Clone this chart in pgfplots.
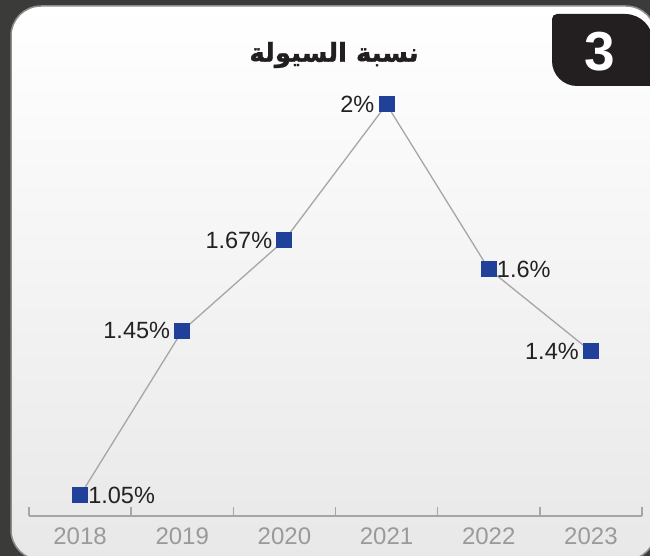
\documentclass[border=0pt]{standalone}
\usepackage{pgfplots}
\pgfplotsset{compat=1.18}
\usepackage{fontspec}
\setmainfont{Liberation Sans}
\newfontfamily\arabicfont[Script=Arabic, BoldFeatures={FakeBold=1.2}]{DejaVu Sans}
\TeXXeTstate=1
\definecolor{bgdark}{HTML}{3B3B3A}
\definecolor{tabdark}{HTML}{231F20}
\definecolor{markblue}{HTML}{21409A}
\definecolor{linegray}{HTML}{A6A6A6}
\definecolor{yeargray}{HTML}{9A9A9A}
\definecolor{labtext}{HTML}{222222}
\begin{document}
\begin{tikzpicture}
% page frame, 1pt = 1px of the reference
\useasboundingbox (0,0) rectangle (650pt,556pt);
\clip (0,0) rectangle (650pt,556pt);
\fill[bgdark] (0,0) rectangle (650pt,556pt);
% white panel
\shade[top color=white, bottom color=black!9, rounded corners=30pt]
  (11pt,-4pt) rectangle (656pt,550pt);
\draw[black!45, line width=1.5pt, rounded corners=30pt]
  (11pt,-4pt) rectangle (656pt,550pt);
% number tab
\fill[tabdark] (660pt,470pt) -- (577pt,470pt)
  arc[start angle=270, end angle=180, radius=25pt] -- (552pt,537pt)
  arc[start angle=180, end angle=90, radius=5pt] -- (625pt,542pt)
  arc[start angle=90, end angle=0, radius=28pt] -- (660pt,514pt) -- cycle;
\node[text=white, font=\fontsize{55}{60}\selectfont\bfseries] at (600pt,504pt) {3};
% title
\node[text=tabdark, font=\fontsize{26}{31}\selectfont\arabicfont\bfseries]
  at (334pt,501pt) {\beginR نسبة السيولة\endR};

\begin{axis}[
    at={(29pt,40pt)}, anchor=south west,
    scale only axis,
    width=613pt, height=514.5pt,
    xmin=-0.5, xmax=5.5,
    ymin=1, ymax=2.25,
    clip=false,
    axis x line*=bottom,
    axis y line=none,
    x axis line style={linegray, line width=1.4pt},
    xtick={0,...,5},
    xticklabels={2018,2019,2020,2021,2022,2023},
    major tick length=0pt,
    minor xtick={-0.5,0.5,...,5.5},
    minor tick length=9pt,
    tick align=inside,
    minor tick style={linegray, line width=1.4pt},
    xticklabel style={font=\fontsize{24}{28}\selectfont, text=yeargray, yshift=-8pt},
    /pgf/number format/assume math mode=true,
    nodes near coords={\pgfmathprintnumber{\pgfplotspointmeta}\%},
    every node near coord/.append style={font=\fontsize{23.5}{28}\selectfont, text=labtext, inner sep=0pt},
]
\addplot[linegray, line width=1.3pt, mark=square*, mark size=7.5pt,
  mark options={fill=markblue, draw=markblue, line width=0pt}, nodes near coords={}]
  coordinates {(0,1.05) (1,1.45) (2,1.67) (3,2.0) (4,1.6) (5,1.4)};
% labels on the left of the marker
\addplot[draw=none, mark=none,
  every node near coord/.append style={anchor=east, xshift=-12pt}]
  coordinates {(1,1.45) (2,1.67) (3,2.0) (5,1.4)};
% labels on the right of the marker
\addplot[draw=none, mark=none,
  every node near coord/.append style={anchor=west, xshift=8pt}]
  coordinates {(0,1.05) (4,1.6)};
\end{axis}
\end{tikzpicture}
\end{document}
